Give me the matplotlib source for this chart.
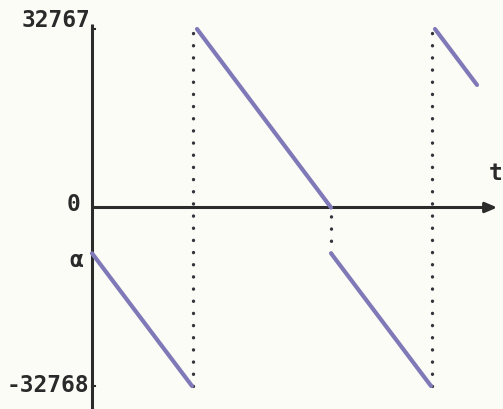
import matplotlib

matplotlib.use("Agg")

import matplotlib.pyplot as plt
import numpy as np

# sawtooth counter readings (t in arbitrary ticks, value as 16-bit int)
seg_t = [[0, 100], [105, 239], [239, 339], [343, 385]]
seg_v = [[-8400, -32768], [32767, 0], [-8400, -32768], [32767, 22500]]

# vertical dotted jumps
jump_t = [101, 239, 340]
jump_lo = [-32768, -8400, -32768]
jump_hi = [32767, 0, 32767]

tick_vals = [32767, 0, -8400, -32768]
tick_labels = ["32767", "0", "α", "-32768"]

AXIS_COL = "#2b2b2b"
LINE_COL = "#8079b8"
BG = "#fcfcf7"

fig = plt.figure(figsize=(5.03, 4.09), dpi=100, facecolor=BG)
ax = fig.add_axes([0, 0, 1, 1])
ax.set_facecolor(BG)
ax.set_xlim(-92, 411)
ax.set_ylim(-36991, 38091)
ax.axis("off")

# axes
ax.plot([0, 0], [33600, -38000], color=AXIS_COL, lw=2.2, solid_capstyle="butt")
ax.plot([0, 400], [0, 0], color=AXIS_COL, lw=2.2, solid_capstyle="butt")
ax.annotate("", xy=(408, 0), xytext=(394, 0),
            arrowprops=dict(arrowstyle="-|>,head_length=0.7,head_width=0.3",
                            color=AXIS_COL, lw=2.2))
for v in [32767, -32768]:
    ax.plot([0, 3], [v, v], color=AXIS_COL, lw=1.5)

# dotted jumps
for t, lo, hi in zip(jump_t, jump_lo, jump_hi):
    ax.plot([t, t], [lo, hi], color="#33333c", lw=2.4,
            linestyle=(0, (0.05, 3.6)), dash_capstyle="round")

# sawtooth segments
for ts, vs in zip(seg_t, seg_v):
    ax.plot(ts, vs, color=LINE_COL, lw=3.0, solid_capstyle="round")

# labels
font = dict(family="DejaVu Sans Mono", fontweight="bold", fontsize=16.5,
            color="#2a2a2a")
label_pos = {"32767": (-2, 1600), "0": (-12, 500), "α": (-9, -1300),
             "-32768": (-3, 0)}
for v, lab in zip(tick_vals, tick_labels):
    dx, dy = label_pos[lab]
    ax.text(dx, v + dy, lab, ha="right", va="center", **font)
ax.text(404, 6200, "t", ha="center", va="center", **font)

fig.savefig("out.png", dpi=100, facecolor=BG)
